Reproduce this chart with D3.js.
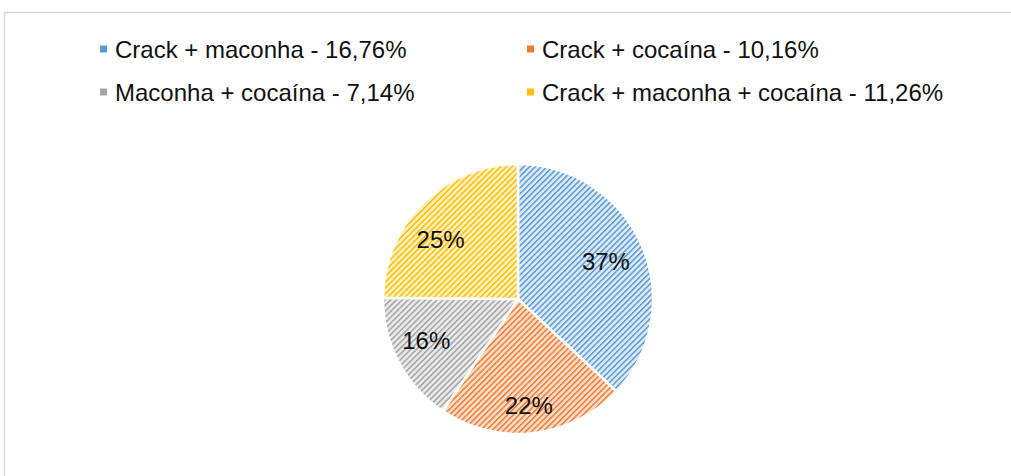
<!DOCTYPE html>
<html>
<head>
<meta charset="utf-8">
<script src="https://cdn.jsdelivr.net/npm/d3@7"></script>
<style>
  body { margin: 0; background: #fff; }
  svg { display: block; font-family: Arial, "Liberation Sans", sans-serif; }
</style>
</head>
<body>
<svg id="chart" width="1011" height="476"></svg>
<script>
// data
const categories = ["Crack + maconha", "Crack + cocaína", "Maconha + cocaína", "Crack + maconha + cocaína"];
const legendPct = ["16,76%", "10,16%", "7,14%", "11,26%"];
const values = [16.76, 10.16, 7.14, 11.26];
const colors = ["#5B9BD5", "#ED7D31", "#A5A5A5", "#FFC000"];
const lightColors = ["#DCE9F6", "#FBDCC8", "#E9E9E9", "#FFEFC0"];

const svg = d3.select("#chart");

// chart frame
svg.append("rect")
  .attr("x", 4.5).attr("y", 12.5)
  .attr("width", 1020).attr("height", 480)
  .attr("fill", "none").attr("stroke", "#d9d9d9").attr("stroke-width", 1.5);

// hatch patterns
const defs = svg.append("defs");
colors.forEach((c, i) => {
  const p = defs.append("pattern")
    .attr("id", "hatch" + i)
    .attr("patternUnits", "userSpaceOnUse")
    .attr("width", 4.1).attr("height", 4.1)
    .attr("patternTransform", "rotate(45)");
  p.append("rect").attr("width", 4.1).attr("height", 4.1).attr("fill", lightColors[i]);
  p.append("rect").attr("width", 1.5).attr("height", 4.1).attr("fill", c);
});

// pie
const cx = 518, cy = 299, r = 135;
const pie = d3.pie().sort(null).value(d => d);
const arc = d3.arc().innerRadius(0).outerRadius(r);
const labelArc = d3.arc().innerRadius(r * 0.71).outerRadius(r * 0.71);
const total = d3.sum(values);
// small best-fit shifts of the percentage labels, like the original
const labelNudge = [[0, 0], [0, 11], [-7, -3], [-10, 8]];

const g = svg.append("g").attr("transform", `translate(${cx},${cy})`);
const arcs = pie(values);

g.selectAll("path.slice")
  .data(arcs)
  .enter().append("path")
  .attr("class", "slice")
  .attr("d", arc)
  .attr("fill", (d, i) => `url(#hatch${i})`)
  .attr("stroke", "#fff")
  .attr("stroke-width", 2.5);

g.selectAll("text.lbl")
  .data(arcs)
  .enter().append("text")
  .attr("class", "lbl")
  .attr("transform", (d, i) => {
    const [x, y] = labelArc.centroid(d);
    return `translate(${x + labelNudge[i][0]},${y + labelNudge[i][1]})`;
  })
  .attr("text-anchor", "middle")
  .attr("dy", "0.36em")
  .attr("font-size", 24)
  .attr("fill", "#111")
  .text(d => Math.round(d.value / total * 100) + "%");

// legend
const legendX = [100, 527], legendY = [49, 92];
const leg = svg.selectAll("g.leg")
  .data(categories)
  .enter().append("g")
  .attr("class", "leg")
  .attr("transform", (d, i) => `translate(${legendX[i % 2]},${legendY[Math.floor(i / 2)]})`);

leg.append("rect")
  .attr("x", 0).attr("y", -3.5)
  .attr("width", 7).attr("height", 7)
  .attr("fill", (d, i) => colors[i]);

leg.append("text")
  .attr("x", 15)
  .attr("dy", "0.36em")
  .attr("font-size", 24)
  .attr("fill", "#111")
  .text((d, i) => `${d} - ${legendPct[i]}`);
</script>
</body>
</html>
